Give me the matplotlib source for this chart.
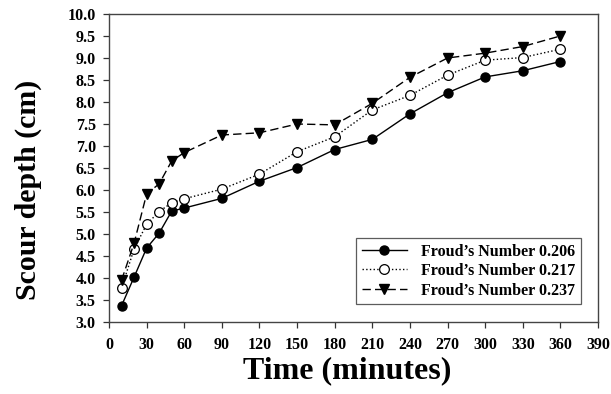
import matplotlib
matplotlib.use("Agg")
import matplotlib.pyplot as plt

time = [10, 20, 30, 40, 50, 60, 90, 120, 150, 180, 210, 240, 270, 300, 330, 360]
fr_0206 = [3.37, 4.02, 4.68, 5.02, 5.52, 5.59, 5.81, 6.20, 6.51, 6.92, 7.15, 7.73, 8.21, 8.57, 8.71, 8.92]
fr_0217 = [3.77, 4.66, 5.22, 5.51, 5.71, 5.80, 6.02, 6.36, 6.87, 7.21, 7.82, 8.15, 8.61, 8.95, 9.01, 9.20]
fr_0237 = [3.95, 4.79, 5.91, 6.14, 6.66, 6.85, 7.25, 7.30, 7.50, 7.48, 7.97, 8.56, 9.00, 9.11, 9.26, 9.50]
labels = ["Froud\u2019s Number 0.206", "Froud\u2019s Number 0.217", "Froud\u2019s Number 0.237"]
xticks = list(range(0, 391, 30))
yticks = [3.0 + 0.5 * i for i in range(15)]

plt.rcParams['font.family'] = ['Liberation Serif', 'DejaVu Serif']
plt.rcParams['font.weight'] = 'bold'

fig = plt.figure(figsize=(6.11, 3.94), dpi=100)
ax = fig.add_axes([0.1784, 0.1827, 0.8003, 0.7818])

ax.plot(time, fr_0206, '-', color='black', lw=1.0, marker='o', ms=6.5,
        mfc='black', mec='black', label=labels[0])
ax.plot(time, fr_0217, ':', color='black', lw=1.0, marker='o', ms=7,
        mfc='white', mec='black', mew=0.9, label=labels[1])
ax.plot(time, fr_0237, '--', color='black', lw=1.0, dashes=(6, 3), marker='v', ms=7,
        mfc='black', mec='black', label=labels[2])

ax.set_xlim(0, 390)
ax.set_ylim(3.0, 10.0)
ax.set_xticks(xticks)
ax.set_yticks(yticks)
ax.set_xticklabels([str(t) for t in xticks], fontsize=11.5, fontweight='bold')
ax.set_yticklabels(["%.1f" % v for v in yticks], fontsize=11.5, fontweight='bold')
ax.tick_params(direction='out', length=4.5, width=0.9, color='#333333', pad=5)
ax.tick_params(axis='x', pad=6)
for s in ax.spines.values():
    s.set_color('#444444')
    s.set_linewidth(1.0)

ax.set_xlabel('Time (minutes)', fontsize=23, fontweight='bold')
ax.set_ylabel('Scour depth (cm)', fontsize=21.5, fontweight='bold')
ax.xaxis.set_label_coords(0.487, -0.112)
ax.yaxis.set_label_coords(-0.137, 0.43)

leg = ax.legend(loc='lower right', bbox_to_anchor=(0.965, 0.058),
                prop={'weight': 'bold', 'size': 11.5}, numpoints=1, fancybox=False,
                frameon=True, edgecolor='#333333', handlelength=2.8,
                borderpad=0.35, labelspacing=0.22, handletextpad=0.9,
                borderaxespad=0.0)
leg.get_frame().set_linewidth(0.9)

fig.savefig('out.png', dpi=100)
